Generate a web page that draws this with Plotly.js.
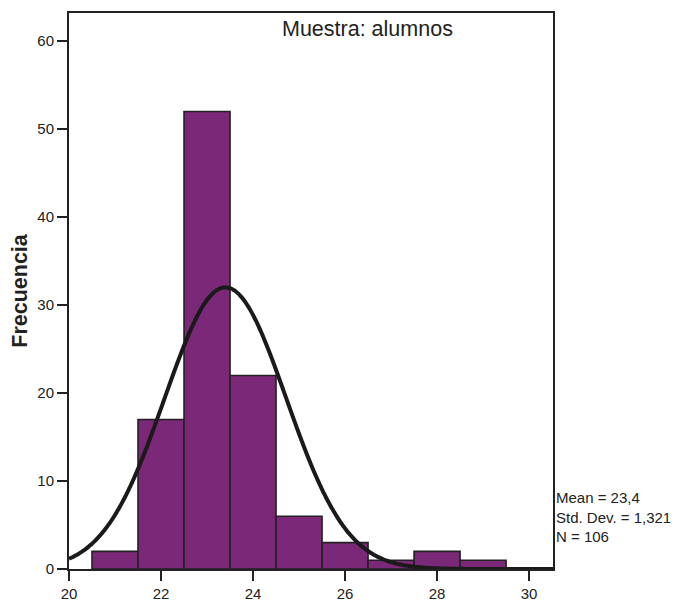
<!DOCTYPE html>
<html>
<head>
<meta charset="utf-8">
<script src="https://cdn.plot.ly/plotly-3.0.1.min.js"></script>
<style>html,body{margin:0;padding:0;background:#fff;}#chart{width:679px;height:601px;}</style>
</head>
<body>
<div id="chart"></div>
<script>
// Data
const binCenters = [21, 22, 23, 24, 25, 26, 27, 28, 29];
const frequencies = [2, 17, 52, 22, 6, 3, 1, 2, 1];
const statMean = 23.4;
const statSD = 1.321;
const statN = 106;
const binWidth = 1;
const yTicks = [0, 10, 20, 30, 40, 50, 60];
const xTicks = [20, 22, 24, 26, 28, 30];

// Fitted normal curve from the displayed statistics
const curveX = [], curveY = [];
for (let i = 0; i <= 300; i++) {
  const x = 20 + i * (10.6 / 300);
  const z = (x - statMean) / statSD;
  curveX.push(x);
  curveY.push(statN * binWidth * Math.exp(-0.5 * z * z) / (statSD * Math.sqrt(2 * Math.PI)));
}

const traces = [
  {
    type: 'bar', x: binCenters, y: frequencies, width: binWidth,
    marker: {color: '#7B2878', line: {color: '#222222', width: 1.6}},
    hoverinfo: 'skip', showlegend: false
  },
  {
    type: 'scatter', mode: 'lines', x: curveX, y: curveY,
    line: {color: '#1a1a1a', width: 4, shape: 'spline'},
    hoverinfo: 'skip', showlegend: false, cliponaxis: true
  }
];

const layout = {
  width: 679, height: 601,
  margin: {l: 69, r: 126, t: 13, b: 32},
  paper_bgcolor: '#ffffff', plot_bgcolor: '#ffffff',
  font: {family: 'Liberation Sans, Arial, sans-serif', color: '#222222'},
  bargap: 0,
  xaxis: {
    range: [20, 30.52], tickvals: xTicks, ticktext: xTicks.map(String),
    showgrid: false, zeroline: false,
    showline: true, mirror: true, linecolor: '#222222', linewidth: 2,
    ticks: 'outside', ticklen: 10, tickwidth: 2, tickcolor: '#222222',
    tickfont: {size: 15, color: '#222222'}
  },
  yaxis: {
    range: [0, 63.2], tickvals: yTicks, ticktext: yTicks.map(String),
    showgrid: false, zeroline: false,
    showline: true, mirror: true, linecolor: '#222222', linewidth: 2,
    ticks: 'outside', ticklen: 10, tickwidth: 2, tickcolor: '#222222',
    tickfont: {size: 15, color: '#222222'},
    title: {text: '<b>Frecuencia</b>', font: {size: 21.5, color: '#222222'}, standoff: 4}
  },
  annotations: [
    {
      text: 'Muestra: alumnos', xref: 'paper', yref: 'paper',
      x: 0.617, y: 0.997, xanchor: 'center', yanchor: 'top', showarrow: false,
      font: {size: 21.5, color: '#222222'}
    },
    {
      text: 'Mean = 23,4<br>Std. Dev. = 1,321<br>N = 106', xref: 'paper', yref: 'paper',
      x: 1, y: 0.0935, xanchor: 'left', yanchor: 'middle', xshift: 1, align: 'left',
      showarrow: false, font: {size: 15, color: '#222222'}
    }
  ]
};

Plotly.newPlot('chart', traces, layout, {displayModeBar: false, staticPlot: true});
</script>
</body>
</html>
